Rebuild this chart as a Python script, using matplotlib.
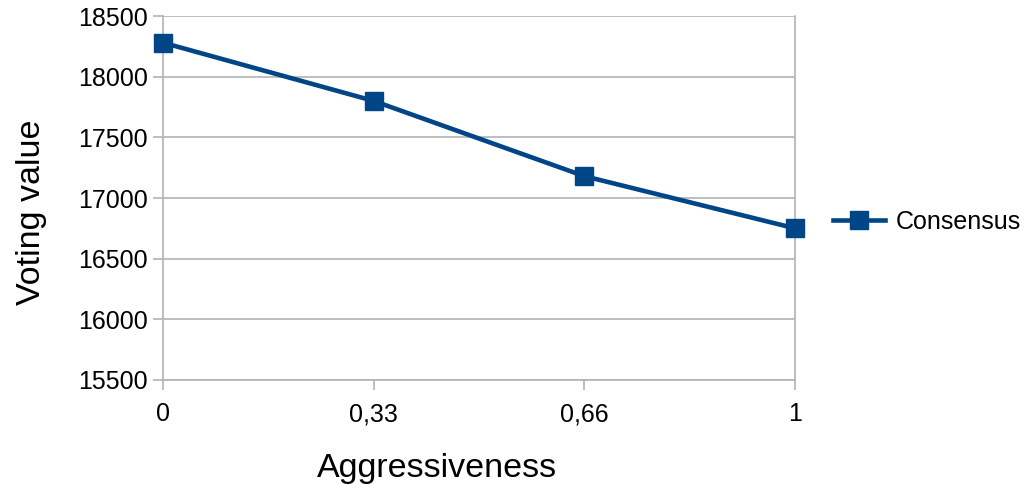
import matplotlib
matplotlib.use("Agg")
import matplotlib.pyplot as plt

# Data
categories = ["0", "0,33", "0,66", "1"]
consensus = [18280, 17800, 17180, 16750]
y_ticks = [15500, 16000, 16500, 17000, 17500, 18000, 18500]

plt.rcParams['font.family'] = ['Liberation Sans', 'DejaVu Sans']

fig = plt.figure(figsize=(10.33, 4.9), dpi=100)
ax = fig.add_axes([163 / 1033, 1 - 380 / 490, (795 - 163) / 1033, (380 - 16) / 490])

x = list(range(len(categories)))
ax.plot(x, consensus, color='#004586', linewidth=3.3, marker='s', markersize=13,
        label='Consensus', clip_on=False, zorder=3)

ax.set_xlim(0, len(categories) - 1)
ax.set_ylim(15500, 18500)
ax.set_xticks(x)
ax.set_xticklabels(categories)
ax.set_yticks(y_ticks)
ax.set_yticklabels([str(v) for v in y_ticks])

grid_col = '#b3b3b3'
ax.yaxis.grid(True, color=grid_col, linewidth=1.2)
ax.set_axisbelow(True)
for s in ax.spines.values():
    s.set_color(grid_col)
    s.set_linewidth(1.2)
ax.spines['top'].set_visible(False)
ax.tick_params(axis='both', colors=grid_col, labelcolor='black', labelsize=18,
               length=7, width=1.2)
ax.tick_params(axis='x', pad=9)
ax.tick_params(axis='y', pad=4)

ax.set_xlabel('Aggressiveness', fontsize=24.5, labelpad=19)
ax.set_ylabel('Voting value', fontsize=24.5, labelpad=22)
# labels in the reference sit a bit off-centre
ax.xaxis.label.set_x(0.434)
ax.yaxis.label.set_y(0.46)

leg = ax.legend(loc='center left', frameon=False, fontsize=18,
                handlelength=2.1, handletextpad=0.4, borderaxespad=0)
leg.set_bbox_to_anchor((1.044, 0.435), transform=ax.transAxes)

fig.savefig('out.png', dpi=100)
